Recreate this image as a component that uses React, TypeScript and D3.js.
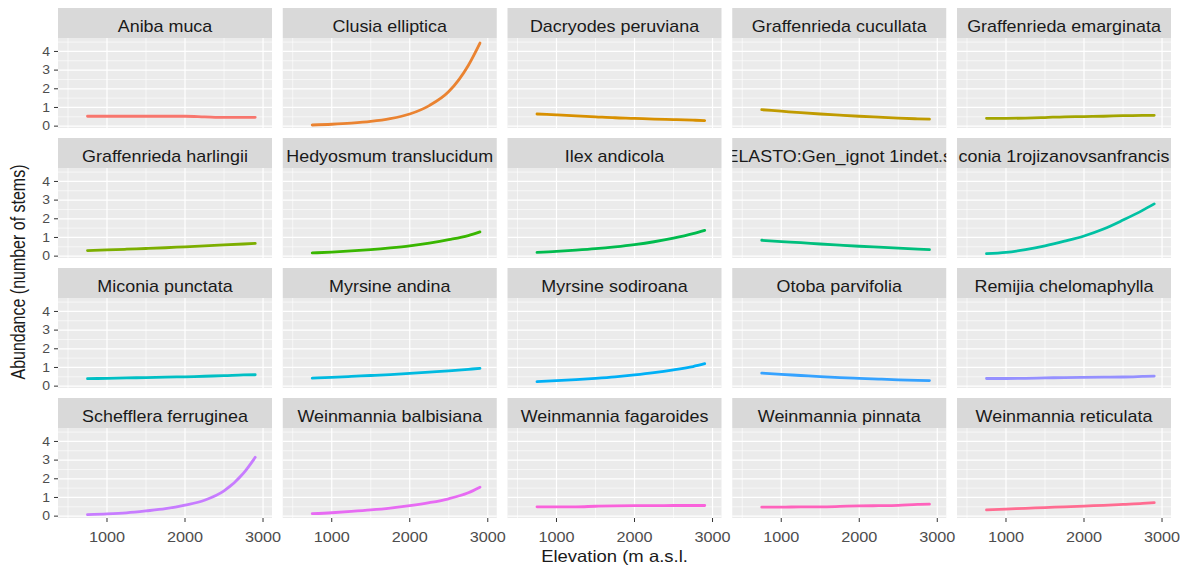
import React from "react";
import * as d3 from "d3";

// ---------- DATA ----------
const speciesNames = [
  "Aniba muca",
  "Clusia elliptica",
  "Dacryodes peruviana",
  "Graffenrieda cucullata",
  "Graffenrieda emarginata",
  "Graffenrieda harlingii",
  "Hedyosmum translucidum",
  "Ilex andicola",
  "ELASTO:Gen_ignot 1indet.s",
  "conia 1rojizanovsanfrancis",
  "Miconia punctata",
  "Myrsine andina",
  "Myrsine sodiroana",
  "Otoba parvifolia",
  "Remijia chelomaphylla",
  "Schefflera ferruginea",
  "Weinmannia balbisiana",
  "Weinmannia fagaroides",
  "Weinmannia pinnata",
  "Weinmannia reticulata",
];

const elevations = [750, 1000, 1250, 1500, 1750, 2000, 2250, 2500, 2750, 2900];

const anibaMuca = [0.53, 0.53, 0.53, 0.53, 0.53, 0.53, 0.5, 0.47, 0.47, 0.47];
const clusiaElliptica = [0.06, 0.1, 0.16, 0.25, 0.4, 0.65, 1.1, 1.85, 3.25, 4.45];
const dacryodesPeruviana = [0.65, 0.6, 0.55, 0.5, 0.45, 0.42, 0.38, 0.35, 0.32, 0.3];
const graffenriedaCucullata = [0.88, 0.8, 0.72, 0.65, 0.59, 0.53, 0.48, 0.43, 0.39, 0.37];
const graffenriedaEmarginata = [0.42, 0.42, 0.43, 0.46, 0.5, 0.51, 0.53, 0.56, 0.58, 0.58];
const graffenriedaHarlingii = [0.3, 0.33, 0.37, 0.41, 0.45, 0.5, 0.55, 0.6, 0.65, 0.68];
const hedyosmumTranslucidum = [0.17, 0.22, 0.28, 0.35, 0.44, 0.55, 0.7, 0.88, 1.1, 1.3];
const ilexAndicola = [0.2, 0.25, 0.32, 0.4, 0.5, 0.62, 0.77, 0.96, 1.2, 1.38];
const melastoIndet = [0.85, 0.78, 0.72, 0.65, 0.59, 0.53, 0.48, 0.43, 0.38, 0.35];
const miconiaRojiza = [0.13, 0.2, 0.35, 0.55, 0.8, 1.08, 1.45, 1.93, 2.45, 2.8];
const miconiaPunctata = [0.4, 0.42, 0.44, 0.46, 0.48, 0.5, 0.53, 0.56, 0.6, 0.61];
const myrsineAndina = [0.43, 0.47, 0.52, 0.57, 0.62, 0.68, 0.75, 0.82, 0.9, 0.95];
const myrsineSodiroana = [0.24, 0.29, 0.35, 0.42, 0.5, 0.6, 0.72, 0.87, 1.05, 1.2];
const otobaParvifolia = [0.7, 0.63, 0.57, 0.51, 0.46, 0.42, 0.38, 0.34, 0.31, 0.3];
const remijiaChelomaphylla = [0.41, 0.41, 0.42, 0.44, 0.46, 0.47, 0.48, 0.49, 0.52, 0.54];
const scheffleraFerruginea = [0.08, 0.12, 0.18, 0.28, 0.4, 0.59, 0.85, 1.35, 2.3, 3.15];
const weinmanniaBalbisiana = [0.13, 0.18, 0.25, 0.33, 0.43, 0.56, 0.72, 0.93, 1.25, 1.55];
const weinmanniaFagaroides = [0.5, 0.5, 0.5, 0.53, 0.55, 0.56, 0.56, 0.57, 0.57, 0.57];
const weinmanniaPinnata = [0.48, 0.48, 0.5, 0.5, 0.52, 0.55, 0.56, 0.58, 0.63, 0.64];
const weinmanniaReticulata = [0.33, 0.38, 0.42, 0.46, 0.5, 0.54, 0.58, 0.63, 0.68, 0.72];

const seriesValues = [
  anibaMuca, clusiaElliptica, dacryodesPeruviana, graffenriedaCucullata, graffenriedaEmarginata,
  graffenriedaHarlingii, hedyosmumTranslucidum, ilexAndicola, melastoIndet, miconiaRojiza,
  miconiaPunctata, myrsineAndina, myrsineSodiroana, otobaParvifolia, remijiaChelomaphylla,
  scheffleraFerruginea, weinmanniaBalbisiana, weinmanniaFagaroides, weinmanniaPinnata, weinmanniaReticulata,
];

const palette = [
  "#F8766D", "#EA8331", "#D89000", "#C09B00", "#A3A500",
  "#7CAE00", "#39B600", "#00BB4E", "#00BF7D", "#00C1A3",
  "#00BFC4", "#00BAE0", "#00B0F6", "#35A2FF", "#9590FF",
  "#C77CFF", "#E76BF3", "#FA62DB", "#FF62BC", "#FF6C91",
];

const xTicks = [1000, 2000, 3000];
const xMinor = [500, 1500, 2500];
const yTicks = [0, 1, 2, 3, 4];
const yMinor = [0.5, 1.5, 2.5, 3.5, 4.5];

// ---------- LAYOUT ----------
const W = 1191;
const H = 569;
const LEFT0 = 58;
const COL_STEP = 224.75;
const PW = 214;
const TOP0 = 8;
const ROW_STEP = 130;
const STRIP_H = 30;
const PH = 90;
const NCOL = 5;
const NROW = 4;
const FONT = "'Liberation Sans', Arial, Helvetica, sans-serif";
const SX = 1.12;

const x = d3.scaleLinear().domain([372, 3115]).range([0, PW]);
const y = d3.scaleLinear().domain([-0.1, 4.72]).range([PH, 0]);

const line = d3
  .line<[number, number]>()
  .x((d) => x(d[0]))
  .y((d) => y(d[1]))
  .curve(d3.curveMonotoneX);

function SText({ x0, y0, size, color, anchor = "middle", children, rotate = false }: any) {
  const t = rotate
    ? `translate(${x0},${y0}) rotate(-90) scale(1,${1.22})`
    : `translate(${x0},${y0}) scale(${SX},1)`;
  return (
    <g transform={t}>
      <text x={0} y={0} fontSize={size} fill={color} textAnchor={anchor} fontFamily={FONT}>
        {children}
      </text>
    </g>
  );
}

export default function App() {
  const panels = speciesNames.map((name, i) => {
    const col = i % NCOL;
    const row = Math.floor(i / NCOL);
    const left = LEFT0 + col * COL_STEP;
    const stripTop = TOP0 + row * ROW_STEP;
    const panelTop = stripTop + STRIP_H;
    const pts: [number, number][] = elevations.map((e, k) => [e, seriesValues[i][k]]);
    const clipId = `clip-strip-${i}`;
    return (
      <g key={name}>
        <defs>
          <clipPath id={clipId}>
            <rect x={left} y={stripTop} width={PW} height={STRIP_H} />
          </clipPath>
        </defs>
        <rect x={left} y={stripTop} width={PW} height={STRIP_H} fill="#D9D9D9" />
        <g clipPath={`url(#${clipId})`}>
          <SText x0={left + PW / 2} y0={stripTop + 24} size={16} color="#1A1A1A">
            {name}
          </SText>
        </g>
        <g transform={`translate(${left},${panelTop})`}>
          <rect x={0} y={0} width={PW} height={PH} fill="#EBEBEB" />
          {yMinor.map((v) => (
            <line key={"ym" + v} x1={0} x2={PW} y1={y(v)} y2={y(v)} stroke="#FFFFFF" strokeWidth={0.6} />
          ))}
          {xMinor.map((v) => (
            <line key={"xm" + v} x1={x(v)} x2={x(v)} y1={0} y2={PH} stroke="#FFFFFF" strokeWidth={0.6} />
          ))}
          {yTicks.map((v) => (
            <line key={"y" + v} x1={0} x2={PW} y1={y(v)} y2={y(v)} stroke="#FFFFFF" strokeWidth={1.2} />
          ))}
          {xTicks.map((v) => (
            <line key={"x" + v} x1={x(v)} x2={x(v)} y1={0} y2={PH} stroke="#FFFFFF" strokeWidth={1.2} />
          ))}
          <path d={line(pts) || ""} fill="none" stroke={palette[i]} strokeWidth={2.8} strokeLinecap="round" />
          {col === 0 &&
            yTicks.map((v) => (
              <g key={"yt" + v}>
                <line x1={-4} x2={0} y1={y(v)} y2={y(v)} stroke="#333333" strokeWidth={1} />
                <SText x0={-8} y0={y(v) + 4.3} size={12.5} color="#4D4D4D" anchor="end">
                  {v}
                </SText>
              </g>
            ))}
          {row === NROW - 1 &&
            xTicks.map((v) => (
              <g key={"xt" + v}>
                <line x1={x(v)} x2={x(v)} y1={PH} y2={PH + 4} stroke="#333333" strokeWidth={1} />
                <SText x0={x(v)} y0={PH + 23.5} size={14.5} color="#4D4D4D">
                  {v}
                </SText>
              </g>
            ))}
        </g>
      </g>
    );
  });

  const plotMidX = (LEFT0 + LEFT0 + (NCOL - 1) * COL_STEP + PW) / 2;
  const plotMidY = (TOP0 + STRIP_H + TOP0 + (NROW - 1) * ROW_STEP + STRIP_H + PH) / 2;

  return (
    <svg
      width={W}
      height={H}
      style={{ position: "absolute", left: 0, top: 0, background: "#FFFFFF" }}
    >
      <rect x={0} y={0} width={W} height={H} fill="#FFFFFF" />
      {panels}
      <SText x0={plotMidX} y0={562} size={16.5} color="#1A1A1A">
        Elevation (m a.s.l.
      </SText>
      <SText x0={25} y0={plotMidY - 6} size={16} color="#1A1A1A" rotate>
        Abundance (number of stems)
      </SText>
    </svg>
  );
}
